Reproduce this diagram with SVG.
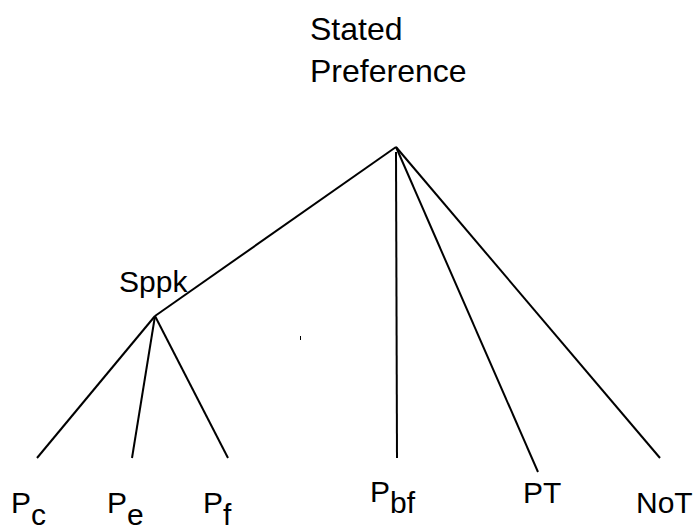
<svg xmlns="http://www.w3.org/2000/svg" width="698" height="525" viewBox="0 0 698 525">
<style>
text{font-family:"Liberation Sans",Arial,sans-serif;fill:#000}
.lbl{font-size:30px}
.top{font-size:32px}
.edge{stroke:#000;stroke-width:2;fill:none}
</style>
<rect width="698" height="525" fill="#fff"/>
<g id="connectors">
<line class="edge" x1="396" y1="147" x2="155" y2="316"/>
<line class="edge" x1="396" y1="152" x2="397" y2="458"/>
<line class="edge" x1="396" y1="147" x2="538" y2="472"/>
<line class="edge" x1="396" y1="147" x2="660" y2="458"/>
<line class="edge" x1="155" y1="316" x2="37" y2="458"/>
<line class="edge" x1="155" y1="316" x2="132" y2="458"/>
<line class="edge" x1="155" y1="316" x2="228" y2="458"/>
<line stroke="#000" stroke-width="1" x1="300.5" y1="336" x2="300.5" y2="340"/>
</g>
<g id="stated-preference"><text class="top" x="310" y="40">Stated</text><text class="top" x="310" y="82">Preference</text></g>
<g id="sppk"><text class="lbl" x="119" y="292">Sppk</text></g>
<g id="pc"><text class="lbl" x="11" y="513">P<tspan dy="11.5">c</tspan></text></g>
<g id="pe"><text class="lbl" x="107" y="513">P<tspan dy="11.5">e</tspan></text></g>
<g id="pf"><text class="lbl" x="203" y="513">P<tspan dy="11.5">f</tspan></text></g>
<g id="pbf"><text class="lbl" x="370" y="502">P<tspan dy="11">bf</tspan></text></g>
<g id="pt"><text class="lbl" x="523" y="503">PT</text></g>
<g id="not"><text class="lbl" x="636" y="513">NoT</text></g>
</svg>
